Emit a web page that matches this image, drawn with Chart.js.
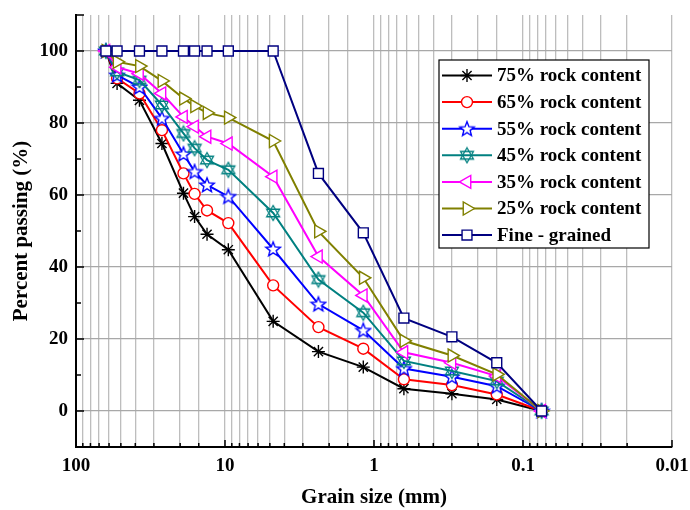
<!DOCTYPE html>
<html>
<head>
<meta charset="utf-8">
<script src="https://cdn.jsdelivr.net/npm/chart.js@4"></script>
<style>
  body { margin: 0; background: #fff; }
</style>
</head>
<body>
<canvas id="granulometria" width="690" height="510"></canvas>
<script>
// tamaños de tamiz (mm)
var tamiz = [63, 53, 37.5, 26.5, 19, 16, 13.2, 9.5, 4.75, 2.36, 1.18, 0.63, 0.3, 0.15, 0.075];

// porcentaje que pasa por serie
var roca75 = [100, 91, 86.3, 74.3, 60.5, 54, 49.1, 44.8, 24.9, 16.5, 12.2, 6.2, 4.8, 3.2, 0];
var roca65 = [100, 92.4, 88.2, 78, 66, 60.3, 55.7, 52.2, 34.9, 23.3, 17.3, 8.8, 7.2, 4.6, 0];
var roca55 = [100, 93.3, 90, 81.3, 71.4, 66.5, 62.8, 59.6, 45, 29.7, 22.4, 11.8, 9.5, 6.9, 0];
var roca45 = [100, 94.2, 91.9, 85, 77.1, 73, 69.7, 67, 55, 36.5, 27.3, 13.9, 11.1, 8.3, 0];
var roca35 = [100, 95.5, 93.7, 88.2, 81.7, 79, 76.2, 74.3, 65.1, 42.9, 32.1, 16.3, 13.4, 9.7, 0];
var roca25 = [100, 97, 95.8, 91.7, 86.8, 84.7, 82.8, 81.5, 75, 49.9, 37, 19.5, 15.4, 10.2, 0];
var fino   = [100, 100, 100, 100, 100, 100, 100, 100, 100, 66, 49.5, 25.8, 20.6, 13.4, 0];

var etiquetas = ["75% rock content", "65% rock content", "55% rock content", "45% rock content",
                 "35% rock content", "25% rock content", "Fine - grained"];

// marcas de los ejes
var xMayores = [100, 10, 1, 0.1, 0.01];
var xEtiquetas = ["100", "10", "1", "0.1", "0.01"];
var yTicks = [0, 20, 40, 60, 80, 100];

var fuente = "'Liberation Serif', 'Times New Roman', serif";

function puntos(valores) {
  return tamiz.map(function(t, i){ return {x: t, y: valores[i]}; });
}

// estrella de cinco puntas
function marcaEstrella(color) {
  var c = document.createElement('canvas');
  c.width = 18; c.height = 18;
  var g = c.getContext('2d');
  g.beginPath();
  for (var i = 0; i < 10; i++) {
    var r = i % 2 ? 3.3 : 7.6;
    var a = -Math.PI / 2 + i * Math.PI / 5;
    g.lineTo(9 + r * Math.cos(a), 9.6 + r * Math.sin(a));
  }
  g.closePath();
  g.fillStyle = "#fff";
  g.fill();
  g.strokeStyle = color;
  g.lineWidth = 1.4;
  g.stroke();
  return c;
}

// dos triangulos cruzados
function marcaHexagrama(color) {
  var c = document.createElement('canvas');
  c.width = 18; c.height = 18;
  var g = c.getContext('2d');
  g.strokeStyle = color;
  g.lineWidth = 1.3;
  [-Math.PI / 2, Math.PI / 2].forEach(function(giro){
    g.beginPath();
    for (var i = 0; i < 3; i++) {
      var a = giro + i * 2 * Math.PI / 3;
      g.lineTo(9 + 7.5 * Math.cos(a), 9 + 7.5 * Math.sin(a));
    }
    g.closePath();
    g.stroke();
  });
  return c;
}

function serie(label, valores, color, estilo, extra) {
  var d = {
    label: label,
    data: puntos(valores),
    showLine: true,
    borderColor: color,
    borderWidth: 2,
    pointStyle: estilo,
    pointRadius: 6,
    pointHoverRadius: 6,
    pointBorderColor: color,
    pointBorderWidth: 1.4,
    pointBackgroundColor: "#fff"
  };
  for (var k in extra) d[k] = extra[k];
  return d;
}

var series = [
  serie(etiquetas[0], roca75, "#000000", "star", {pointBackgroundColor: "#000", pointRadius: 6.5, order: 7}),
  serie(etiquetas[1], roca65, "#ff0000", "circle", {pointRadius: 5.5, order: 6}),
  serie(etiquetas[2], roca55, "#0000ff", marcaEstrella("#0000ff"), {order: 5}),
  serie(etiquetas[3], roca45, "#008080", marcaHexagrama("#008080"), {order: 4}),
  serie(etiquetas[4], roca35, "#ff00ff", "triangle", {pointRotation: -90, pointRadius: 7.5, order: 3}),
  serie(etiquetas[5], roca25, "#808000", "triangle", {pointRotation: 90, pointRadius: 7.5, order: 2}),
  serie(etiquetas[6], fino, "#000080", "rect", {pointRadius: 7, order: 1})
];

// marcas hacia dentro y leyenda dentro del area
var extras = {
  id: 'extras',
  afterDraw: function(chart) {
    var ctx = chart.ctx, xs = chart.scales.x, ys = chart.scales.y, area = chart.chartArea;
    ctx.save();
    ctx.strokeStyle = "#000";
    ctx.lineWidth = 1.5;
    ctx.beginPath();
    yTicks.forEach(function(v){
      var py = ys.getPixelForValue(v);
      ctx.moveTo(area.left, py); ctx.lineTo(area.left + 8, py);
      var pm = ys.getPixelForValue(v + 10);
      ctx.moveTo(area.left, pm); ctx.lineTo(area.left + 5, pm);
    });
    ctx.moveTo(area.left, area.top); ctx.lineTo(area.left + 8, area.top);
    xs.ticks.forEach(function(t){
      var px = xs.getPixelForValue(t.value);
      var largo = xs.options.ticks.callback(t.value) ? 7 : 4;
      ctx.moveTo(px, area.bottom); ctx.lineTo(px, area.bottom - largo);
    });
    ctx.stroke();

    // leyenda
    var lx = 439, ly = 60, lw = 210, lh = 188;
    ctx.fillStyle = "#fff";
    ctx.fillRect(lx, ly, lw, lh);
    ctx.lineWidth = 1.2;
    ctx.strokeRect(lx, ly, lw, lh);
    ctx.font = "bold 19px " + fuente;
    ctx.textBaseline = "middle";
    chart.data.datasets.forEach(function(d, i){
      var fy = ly + 15.5 + i * 26.6;
      ctx.strokeStyle = d.borderColor;
      ctx.lineWidth = 2;
      ctx.beginPath();
      ctx.moveTo(lx + 3, fy); ctx.lineTo(lx + 53, fy);
      ctx.stroke();
      ctx.fillStyle = d.pointBackgroundColor;
      ctx.strokeStyle = d.pointBorderColor;
      ctx.lineWidth = d.pointBorderWidth;
      Chart.helpers.drawPoint(ctx, {
        pointStyle: d.pointStyle, radius: d.pointRadius,
        rotation: d.pointRotation || 0, borderWidth: d.pointBorderWidth
      }, lx + 28, fy);
      ctx.fillStyle = "#000";
      ctx.fillText(etiquetas[i], lx + 58, fy + 1);
    });
    ctx.restore();
  }
};

var contenedor = document.getElementById('granulometria').getContext('2d');

var datos = {
  type: "scatter",
  data: { datasets: series },
  options: {
    responsive: false,
    animation: false,
    events: [],
    layout: { padding: { top: 15, right: 18, left: 0, bottom: 0 } },
    plugins: { legend: { display: false }, tooltip: { enabled: false } },
    scales: {
      x: {
        type: "logarithmic",
        reverse: true,
        min: 0.01,
        max: 100,
        afterFit: function(s){ s.height = 63; s.paddingLeft = 0; s.paddingRight = 0; },
        border: { color: "#000", width: 2 },
        grid: { color: "#bdbdbd", lineWidth: 1.3, drawTicks: false },
        ticks: {
          autoSkip: false,
          maxRotation: 0,
          minRotation: 0,
          padding: 8,
          color: "#000",
          font: { family: fuente, weight: "bold", size: 19 },
          callback: function(v){
            for (var i = 0; i < xMayores.length; i++) {
              if (Math.abs(Math.log10(v) - Math.log10(xMayores[i])) < 1e-6) return xEtiquetas[i];
            }
            return "";
          }
        },
        title: {
          display: true,
          text: "Grain size (mm)",
          color: "#000",
          font: { family: fuente, weight: "bold", size: 21 },
          padding: { top: 0, bottom: 0 }
        }
      },
      y: {
        min: -10,
        max: 110,
        afterBuildTicks: function(s){ s.ticks = yTicks.map(function(v){ return {value: v}; }); },
        afterFit: function(s){ s.width = 76; s.paddingTop = 0; s.paddingBottom = 0; },
        border: { color: "#000", width: 2 },
        grid: { color: "#a8a8a8", lineWidth: 1.3, drawTicks: false },
        ticks: {
          padding: 8,
          color: "#000",
          font: { family: fuente, weight: "bold", size: 19 }
        },
        title: {
          display: true,
          text: "Percent passing (%)",
          color: "#000",
          font: { family: fuente, weight: "bold", size: 21 },
          padding: { top: 9, bottom: 0 }
        }
      }
    }
  },
  plugins: [extras]
};

var grafica = new Chart(contenedor, datos);
</script>
</body>
</html>
